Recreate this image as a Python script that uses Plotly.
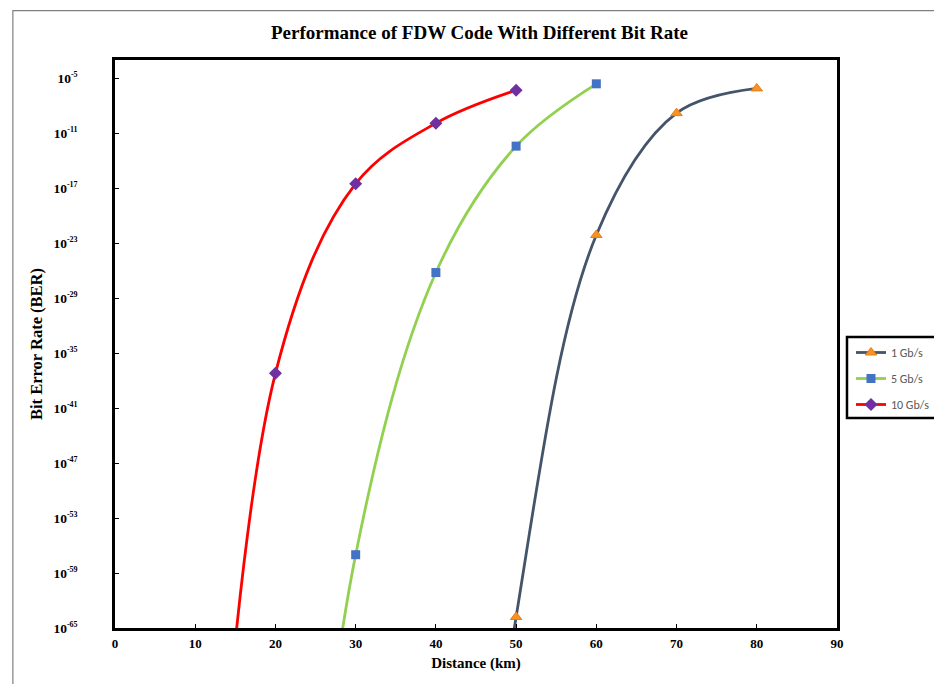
import plotly.graph_objects as go

# Data (log10 of BER); first point of each series lies below the axis range
x_1g = [40, 50, 60, 70, 80]
logber_1g = [-140, -63.8, -22.1, -8.8, -6.1]
x_5g = [20, 30, 40, 50, 60]
logber_5g = [-130, -57.0, -26.2, -12.4, -5.6]
x_10g = [10, 20, 30, 40, 50]
logber_10g = [-125, -37.2, -16.5, -9.9, -6.3]

ytick_exps = [-5, -11, -17, -23, -29, -35, -41, -47, -53, -59, -65]
xtick_vals = [0, 10, 20, 30, 40, 50, 60, 70, 80, 90]

def tov(lst):
    return [10.0 ** v for v in lst]

serif = "Liberation Serif, Times New Roman, serif"

fig = go.Figure()
fig.add_trace(go.Scatter(
    x=x_1g, y=tov(logber_1g), name="1 Gb/s", mode="lines+markers", legendgroup="a",
    line=dict(color="#44546A", width=2.8, shape="spline", smoothing=1),
    marker=dict(symbol="triangle-up", size=10, color="#F7931E",
                line=dict(color="#E67E22", width=1)),
))
fig.add_trace(go.Scatter(
    x=x_5g, y=tov(logber_5g), name="5 Gb/s", mode="lines+markers", legendgroup="b",
    line=dict(color="#92D050", width=2.8, shape="spline", smoothing=1),
    marker=dict(symbol="square", size=9, color="#4472C4", line=dict(width=0)),
))
fig.add_trace(go.Scatter(
    x=x_10g, y=tov(logber_10g), name="10 Gb/s", mode="lines+markers", legendgroup="c",
    line=dict(color="#FF0000", width=2.8, shape="spline", smoothing=1),
    marker=dict(symbol="diamond", size=10, color="#7030A0", line=dict(width=0)),
))

PL, PT, PW, PH = 114.5, 60, 722.5, 568  # plot area in window pixels

def px_x(px):
    return (px - PL) / PW

def px_y(py):
    return (PT + PH - py) / PH

# page body has an 8px margin, so the figure is 8px smaller than the window
fig.update_layout(
    width=934, height=676,
    margin=dict(l=106.5, r=105, t=52, b=56, autoexpand=False),
    paper_bgcolor="white", plot_bgcolor="white",
    title=dict(text="<b>Performance of FDW Code With Different Bit Rate</b>",
               x=(479.5 - 8) / 934, xanchor="center", y=1 - 24 / 676, yanchor="middle",
               font=dict(family=serif, size=19, color="black")),
    showlegend=True,
    legend=dict(x=px_x(851), y=px_y(338), xanchor="left", yanchor="top",
                borderwidth=0, bgcolor="rgba(0,0,0,0)",
                font=dict(family="Carlito, Liberation Sans, Arial, sans-serif", size=12, color="#595959"),
                tracegroupgap=7, itemwidth=30),
)

fig.update_xaxes(
    range=[0, 90], tickvals=xtick_vals, ticktext=["<b>%d</b>" % v for v in xtick_vals],
    showgrid=False, zeroline=False,
    showline=True, linecolor="black", linewidth=2.5, mirror=True,
    ticks="inside", ticklen=4, tickcolor="black", tickwidth=1,
    ticklabelstandoff=2,
    tickfont=dict(family=serif, size=13, color="black"),
    title=dict(text="<b>Distance (km)</b>", font=dict(family=serif, size=15, color="black"), standoff=8),
)
fig.update_yaxes(
    type="log", range=[-65, -3],
    tickvals=[10.0 ** e for e in ytick_exps],
    ticktext=["<b>10<sup><span style='font-size:8px'>%d</span></sup></b>" % e for e in ytick_exps],
    showgrid=False, zeroline=False,
    showline=True, linecolor="black", linewidth=2.5, mirror=True,
    ticks="inside", ticklen=4, tickcolor="black", tickwidth=1,
    ticklabelstandoff=32,
    tickfont=dict(family=serif, size=13.5, color="black"),
    title=dict(text="<b>Bit Error Rate (BER)</b>", font=dict(family=serif, size=16.5, color="black"), standoff=7),
)

# outer chart border (extends past the right and bottom edges of the image)
fig.add_shape(type="rect", xref="paper", yref="paper",
              x0=px_x(12.3), x1=1.3, y0=-0.3, y1=px_y(10.7),
              line=dict(color="#7F7F7F", width=1.2), layer="below")
# legend frame
fig.add_shape(type="rect", xref="paper", yref="paper",
              x0=px_x(847), x1=px_x(940.5), y0=px_y(418), y1=px_y(337),
              line=dict(color="black", width=2.5), fillcolor="white", layer="below")

fig.write_html("out.html")
